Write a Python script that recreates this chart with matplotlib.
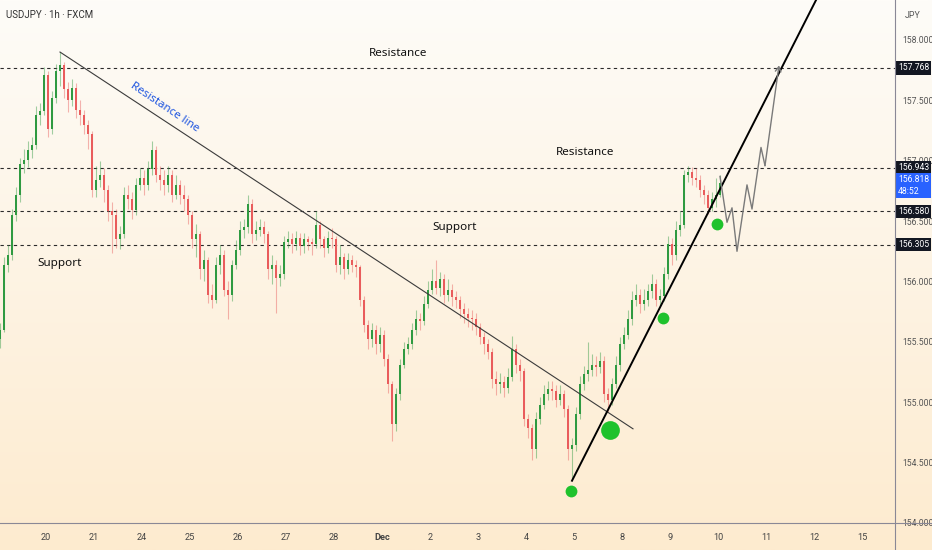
import numpy as np
import matplotlib.pyplot as plt
import matplotlib.transforms as mtransforms
from matplotlib.lines import Line2D

# 2-hour candles, USDJPY
first_open = 155.52
closes = [
    155.60, 156.14, 156.22, 156.55, 156.72, 156.97, 157.01, 157.09, 157.13, 157.38,
    157.41, 157.71, 157.26, 157.52, 157.74, 157.79, 157.59, 157.50, 157.60, 157.42,
    157.38, 157.30, 157.22, 156.76, 156.84, 156.88, 156.76, 156.58, 156.55, 156.35,
    156.39, 156.72, 156.68, 156.59, 156.80, 156.86, 156.80, 156.93, 157.09, 156.88,
    156.84, 156.80, 156.88, 156.72, 156.80, 156.72, 156.68, 156.55, 156.35, 156.39,
    156.10, 156.18, 155.89, 155.85, 156.14, 156.22, 155.93, 155.89, 156.14, 156.26,
    156.43, 156.45, 156.64, 156.39, 156.43, 156.45, 156.39, 156.10, 156.14, 156.03,
    156.06, 156.33, 156.35, 156.31, 156.36, 156.29, 156.35, 156.33, 156.31, 156.47,
    156.35, 156.28, 156.36, 156.35, 156.14, 156.20, 156.10, 156.18, 156.14, 156.12,
    155.85, 155.64, 155.52, 155.60, 155.48, 155.56, 155.36, 155.15, 154.82, 155.07,
    155.31, 155.44, 155.48, 155.60, 155.69, 155.67, 155.81, 155.93, 156.00, 155.95,
    156.02, 155.89, 155.93, 155.87, 155.85, 155.77, 155.73, 155.70, 155.69, 155.62,
    155.54, 155.48, 155.42, 155.19, 155.15, 155.17, 155.12, 155.21, 155.44, 155.31,
    155.26, 154.86, 154.79, 154.61, 154.86, 154.98, 155.07, 155.11, 155.09, 155.02,
    155.07, 154.94, 154.61, 154.65, 154.90, 155.15, 155.23, 155.27, 155.31, 155.29,
    155.34, 155.07, 155.02, 155.15, 155.31, 155.48, 155.56, 155.69, 155.85, 155.89,
    155.81, 155.85, 155.92, 155.98, 155.85, 155.88, 156.06, 156.31, 156.22, 156.43,
    156.47, 156.88, 156.91, 156.86, 156.84, 156.76, 156.72, 156.61, 156.68, 156.72,
    156.818,
]
highs = [
    155.66, 156.20, 156.30, 156.60, 156.78, 157.02, 157.10, 157.16, 157.20, 157.45,
    157.48, 157.78, 157.74, 157.58, 157.80, 157.90, 157.82, 157.65, 157.68, 157.64,
    157.50, 157.42, 157.34, 157.25, 156.96, 157.00, 156.94, 156.80, 156.66, 156.60,
    156.46, 156.78, 156.80, 156.74, 156.86, 156.94, 156.92, 157.00, 157.16, 157.12,
    156.96, 156.92, 156.96, 156.92, 156.88, 156.84, 156.80, 156.72, 156.58, 156.48,
    156.42, 156.26, 156.20, 155.98, 156.20, 156.30, 156.26, 156.00, 156.18, 156.34,
    156.50, 156.52, 156.72, 156.68, 156.50, 156.52, 156.50, 156.42, 156.22, 156.18,
    156.14, 156.38, 156.42, 156.40, 156.42, 156.40, 156.40, 156.38, 156.36, 156.58,
    156.50, 156.38, 156.42, 156.44, 156.38, 156.30, 156.24, 156.24, 156.22, 156.18,
    156.14, 155.88, 155.68, 155.66, 155.64, 155.62, 155.60, 155.40, 155.18, 155.12,
    155.36, 155.50, 155.54, 155.66, 155.76, 155.74, 155.88, 156.00, 156.10, 156.18,
    156.08, 156.06, 156.02, 155.98, 155.92, 155.88, 155.82, 155.78, 155.76, 155.74,
    155.66, 155.58, 155.52, 155.45, 155.26, 155.24, 155.22, 155.28, 155.55, 155.48,
    155.36, 155.28, 154.90, 154.82, 154.92, 155.04, 155.14, 155.18, 155.18, 155.14,
    155.14, 155.10, 154.98, 154.70, 154.96, 155.22, 155.30, 155.50, 155.40, 155.38,
    155.42, 155.38, 155.12, 155.20, 155.38, 155.54, 155.62, 155.76, 155.92, 155.98,
    155.94, 155.94, 155.98, 156.06, 156.02, 155.94, 156.12, 156.38, 156.36, 156.50,
    156.58, 156.92, 156.96, 156.95, 156.94, 156.88, 156.80, 156.76, 156.74, 156.86,
    156.88,
]
lows = [
    155.45, 155.58, 156.08, 156.18, 156.50, 156.66, 156.90, 156.95, 157.02, 157.10,
    157.30, 157.38, 157.20, 157.22, 157.48, 157.62, 157.52, 157.40, 157.45, 157.35,
    157.30, 157.22, 157.10, 156.70, 156.70, 156.78, 156.66, 156.50, 156.24, 156.28,
    156.27, 156.36, 156.60, 156.52, 156.55, 156.76, 156.72, 156.76, 156.88, 156.82,
    156.76, 156.72, 156.74, 156.66, 156.68, 156.64, 156.58, 156.48, 156.28, 156.20,
    156.02, 156.00, 155.82, 155.78, 155.82, 156.06, 155.88, 155.69, 155.84, 156.10,
    156.22, 156.36, 156.40, 156.32, 156.34, 156.38, 156.32, 156.02, 155.98, 155.74,
    155.96, 156.02, 156.28, 156.24, 156.26, 156.22, 156.24, 156.26, 156.22, 156.28,
    156.28, 156.20, 156.24, 156.28, 156.08, 156.06, 156.02, 156.06, 156.08, 156.04,
    155.80, 155.58, 155.44, 155.46, 155.40, 155.42, 155.30, 155.08, 154.68, 154.76,
    155.02, 155.28, 155.40, 155.44, 155.56, 155.60, 155.64, 155.78, 155.90, 155.90,
    155.88, 155.82, 155.84, 155.80, 155.78, 155.70, 155.66, 155.62, 155.60, 155.56,
    155.48, 155.40, 155.36, 155.12, 155.06, 155.08, 155.04, 155.08, 155.18, 155.24,
    155.18, 154.80, 154.70, 154.52, 154.54, 154.82, 154.94, 155.02, 155.02, 154.96,
    154.98, 154.88, 154.52, 154.36, 154.60, 154.86, 155.10, 155.18, 155.22, 155.22,
    155.24, 155.00, 154.92, 154.98, 155.12, 155.26, 155.44, 155.52, 155.64, 155.80,
    155.74, 155.76, 155.80, 155.86, 155.80, 155.80, 155.84, 156.02, 156.14, 156.18,
    156.38, 156.44, 156.82, 156.80, 156.78, 156.70, 156.64, 156.56, 156.58, 156.62,
    156.70,
]
bar_hours = 2
start_hour = -23          # trading hours relative to Nov 20 00:00

day_labels = ["20", "21", "24", "25", "26", "27", "28", "Dec", "2", "3",
              "4", "5", "8", "9", "10", "11", "12", "15"]
levels = [157.768, 156.943, 156.580, 156.305]
last_price = 156.818
countdown = "48:52"

res_line_t = [7, 293.5]
res_line_p = [157.90, 154.78]
up_line_t = [263, 385]
up_line_p = [154.35, 158.33]
dots_t = [262.5, 282, 308.5, 335.5]
dots_p = [154.265, 154.77, 155.70, 156.48]
dots_big = [False, True, False, False]
path_t = [337, 340.5, 343, 345.5, 350.5, 353, 357.5, 359.5, 366.5]
path_p = [156.87, 156.49, 156.61, 156.25, 156.80, 156.60, 157.11, 156.96, 157.79]

labels_txt = ["Resistance", "Resistance", "Support", "Support"]
labels_t = [176, 269.5, 204.5, 7]
labels_p = [157.89, 157.07, 156.45, 156.15]

axis_font = "Roboto"

W, H = 932, 550
fig = plt.figure(figsize=(W / 100, H / 100), dpi=100)

# background gradient
bg = fig.add_axes([0, 0, 1, 1], zorder=-5)
top = np.array([254, 252, 248]) / 255
bot = np.array([253, 235, 207]) / 255
k = np.linspace(0, 1, 256)[:, None]
grad = top[None, :] * (1 - k) + bot[None, :] * k
bg.imshow(grad[:, None, :], aspect="auto", extent=[0, 1, 0, 1])
bg.axis("off")

ax = fig.add_axes([0, 27 / H, 895 / W, 523 / H])
ax.set_facecolor("none")
for s in ax.spines.values():
    s.set_visible(False)

opens = np.concatenate([[first_open], closes[:-1]])
closes_a = np.array(closes)
t = start_hour + bar_hours * np.arange(len(closes))
up = closes_a >= opens
up_col, dn_col = "#2f9a41", "#e95c5c"
colors = np.where(up, up_col, dn_col)

ax.vlines(t, lows, highs, colors=colors, lw=0.8, alpha=0.45, zorder=2)
body_lo = np.minimum(opens, closes_a)
body_h = np.maximum(np.abs(closes_a - opens), 0.008)
ax.bar(t, body_h, bottom=body_lo, width=1.2, color=colors, linewidth=0, zorder=3)

for lv in levels:
    ax.axhline(lv, color="#2a2a2a", lw=0.8, ls=(0, (3, 3)), zorder=1)

ax.plot(res_line_t, res_line_p, color="#3b3b3b", lw=0.8, zorder=4)
ax.plot(up_line_t, up_line_p, color="#000000", lw=1.4, zorder=4)

for tt, pp, big in zip(dots_t, dots_p, dots_big):
    ax.plot(tt, pp, "o", ms=13.5 if big else 8.5, color="#1fc22c", mec="none", zorder=6)

ax.plot(path_t[:-1], path_p[:-1], color="#7a7a7a", lw=1.0, zorder=5)
ax.annotate("", xy=(path_t[-1], path_p[-1]), xytext=(path_t[-2], path_p[-2]),
            arrowprops=dict(arrowstyle="->,head_length=0.35,head_width=0.2",
                            color="#7a7a7a", lw=1.0, shrinkA=0, shrinkB=0), zorder=5)

for txt, tt, pp in zip(labels_txt, labels_t, labels_p):
    ax.text(tt, pp, txt, ha="center", va="center", fontsize=8.4,
            family="Noto Sans", weight="medium", color="#111111", zorder=7)
ax.text(59.5, 157.44, "Resistance line", ha="center", va="center", fontsize=8.3,
        family="Noto Sans", weight="medium", color="#1e55e0", rotation=-34,
        rotation_mode="anchor", zorder=7)

ax.set_xlim(-23, 424.5)
ax.set_ylim(154.0, 158.331)

ax.set_xticks(24 * np.arange(len(day_labels)))
ax.set_xticklabels(day_labels, family=axis_font, fontsize=6.6, color="#444444")
ax.get_xticklabels()[day_labels.index("Dec")].set_fontweight("bold")
ax.tick_params(axis="x", length=0, pad=7)

yt = np.arange(154.0, 158.01, 0.5)
ax.yaxis.tick_right()
ax.set_yticks(yt)
ax.set_yticklabels([f"{v:.3f}" for v in yt], family=axis_font, fontsize=6.2, color="#555555")
ax.tick_params(axis="y", length=0, pad=5)

tr = mtransforms.blended_transform_factory(ax.transAxes, ax.transData)
for lv in levels:
    ax.text(1 + 3 / 895, lv, f"{lv:.3f}", transform=tr, ha="left", va="center",
            family=axis_font, fontsize=6.2, color="white", clip_on=False, zorder=10,
            bbox=dict(boxstyle="square,pad=0.25", fc="#131722", ec="none"))
ax.text(1 + 3 / 895, last_price + 0.06, f"{last_price:.3f}\n{countdown}", transform=tr,
        ha="left", va="top", family=axis_font, fontsize=6.2, color="white", linespacing=1.35,
        clip_on=False, zorder=10,
        bbox=dict(boxstyle="square,pad=0.25", fc="#2962ff", ec="none"))

fig.text(6 / W, 1 - 15 / H, "USDJPY \u00b7 1h \u00b7 FXCM", family=axis_font, fontsize=7.0,
         color="#333333", va="center", ha="left")
fig.text(905 / W, 1 - 15 / H, "JPY", family=axis_font, fontsize=6.4, color="#555555",
         va="center", ha="left")

fig.add_artist(Line2D([0, 1], [27 / H, 27 / H], transform=fig.transFigure,
                      color="#8a8896", lw=0.8))
fig.add_artist(Line2D([895 / W, 895 / W], [0, 1], transform=fig.transFigure,
                      color="#8a8896", lw=0.8))

fig.savefig("out.png", dpi=100)
